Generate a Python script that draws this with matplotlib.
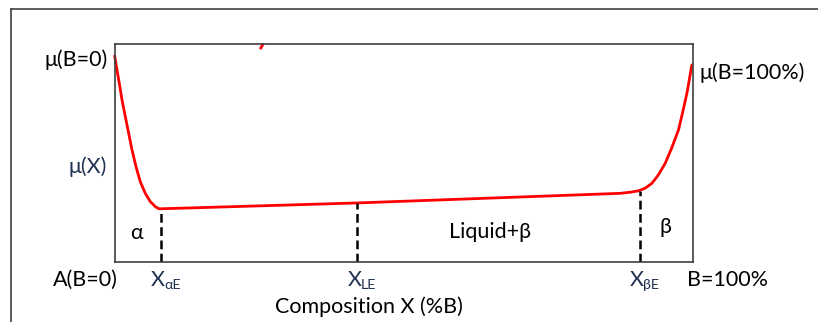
import matplotlib
matplotlib.use("Agg")
import matplotlib.pyplot as plt
from matplotlib.lines import Line2D

plt.rcParams['font.family'] = ['Lato', 'Noto Sans', 'DejaVu Sans']

# Chemical potential curve, composition in %B, mu normalised to 0..100
comp = [0.03, 0.43, 0.83, 1.30, 1.87, 2.45, 3.03, 3.72, 4.46, 5.32, 6.19, 7.05, 7.69,
        13.05, 42.1, 87.4, 89.1, 90.5, 91.7, 92.9, 94.0, 95.2, 96.3, 97.5, 98.3, 99.0, 99.8]
mu = [94.5, 88.1, 82.0, 74.3, 66.7, 59.0, 51.4, 43.7, 36.8, 31.5, 27.7, 25.4, 24.4,
      24.8, 27.1, 31.5, 32.0, 32.6, 33.8, 36.1, 39.9, 45.3, 52.2, 60.6, 69.7, 78.1, 90.4]

# Eutectic compositions (dashed markers) and mu at those points
eut_x = [8.0, 42.0, 90.8]
eut_mu = [24.4, 27.1, 32.6]
eut_main = ['X', 'X', 'X']
eut_sub = ['αE', 'LE', 'βE']

# small stray red mark near the top of the original drawing
stray_x = [25.3, 25.6]
stray_y = [98.2, 99.6]

NAVY = '#1f3050'
FS = 15.5

fig = plt.figure(figsize=(8.18, 3.22), dpi=100)
ax = fig.add_axes([114.5 / 818, 60 / 322, 578.5 / 818, 218 / 322])
ax.set_xlim(0, 100)
ax.set_ylim(0, 100)
ax.set_xticks([])
ax.set_yticks([])
for s in ax.spines.values():
    s.set_color('#404040')
    s.set_linewidth(1.2)

ax.plot(comp, mu, color='#ff0000', lw=2.0, solid_capstyle='round',
        solid_joinstyle='round', clip_on=False)
ax.plot(stray_x, stray_y, color='#ff0000', lw=2.0, clip_on=False)

for x, m, main, sub in zip(eut_x, eut_mu, eut_main, eut_sub):
    ax.plot([x, x], [0, m], color='black', lw=1.8, ls=(0, (3.5, 1.8)))
    ax.annotate(main, xy=(x, -8.3), xycoords='data', xytext=(3, 0), textcoords='offset points',
                ha='right', va='center', fontsize=FS, color=NAVY, annotation_clip=False)
    ax.annotate(sub, xy=(x, -8.3), xycoords='data', xytext=(2.5, -3.5), textcoords='offset points',
                ha='left', va='center', fontsize=FS * 0.66, color=NAVY, annotation_clip=False)

kw = dict(fontsize=FS, clip_on=False)
ax.text(-1.2, 92.7, 'μ(B=0)', ha='right', va='center', color='black', **kw)
ax.text(-1.4, 43.7, 'μ(X)', ha='right', va='center', color=NAVY, **kw)
ax.text(101.2, 86.7, 'μ(B=100%)', ha='left', va='center', color='black', **kw)
ax.text(3.75, 13.5, 'α', ha='center', va='center', color='black', **kw)
ax.text(64.9, 13.8, 'Liquid+β', ha='center', va='center', color='black', **kw)
ax.text(95.3, 16.0, 'β', ha='center', va='center', color='black', **kw)
ax.text(-5.0, -8.3, 'A(B=0)', ha='center', va='center', color='black', **kw)
ax.text(106.0, -8.3, 'B=100%', ha='center', va='center', color='black', **kw)
ax.text(44.0, -20.5, 'Composition X (%B)', ha='center', va='center', color='black', **kw)

# outer frame (left and top edges)
fig.add_artist(Line2D([11 / 818, 11 / 818], [0, 1 - 9 / 322], transform=fig.transFigure,
                      color='#404040', lw=1.2))
fig.add_artist(Line2D([11 / 818, 1], [1 - 9 / 322, 1 - 9 / 322], transform=fig.transFigure,
                      color='#404040', lw=1.2))

fig.savefig('out.png', dpi=100, facecolor='white')
